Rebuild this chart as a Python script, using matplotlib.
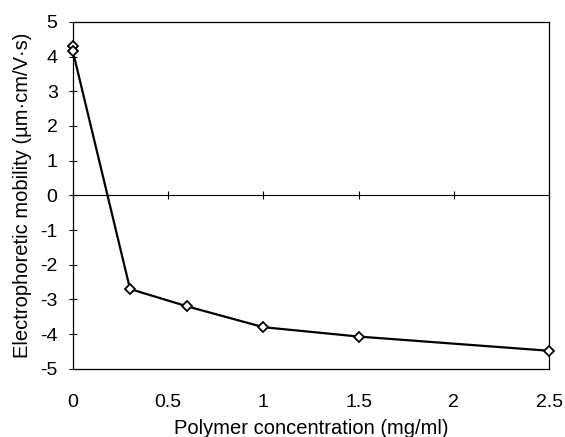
import numpy as np
import matplotlib
matplotlib.use('Agg')
import matplotlib.pyplot as plt

plt.rcParams['font.family'] = ['Liberation Sans', 'DejaVu Sans']
plt.rcParams['axes.unicode_minus'] = False

# polymer concentration (mg/ml) and electrophoretic mobility
conc = [0, 0, 0.3, 0.6, 1.0, 1.5, 2.5]
mobility = [4.3, 4.15, -2.7, -3.2, -3.8, -4.07, -4.48]

x_ticks = [0, 0.5, 1, 1.5, 2, 2.5]
x_labels = ['0', '0.5', '1', '1.5', '2', '2.5']
y_ticks = [5, 4, 3, 2, 1, 0, -1, -2, -3, -4, -5]

fig = plt.figure(figsize=(5.65, 4.37), dpi=100)
ax = fig.add_axes([0.129, 0.156, 0.843, 0.794])

ax.plot(conc, mobility, color='k', lw=1.6, marker='D', markersize=5,
        markerfacecolor='white', markeredgecolor='k', markeredgewidth=1.3,
        zorder=3, clip_on=False)

ax.set_xlim(0, 2.5)
ax.set_ylim(-5, 5)
ax.set_xticks(x_ticks)
ax.set_xticklabels(x_labels)
ax.set_yticks(y_ticks)
ax.tick_params(axis='y', direction='inout', length=6, width=0.8, labelsize=14, pad=8)
ax.tick_params(axis='x', length=0, labelsize=14, pad=18)
for s in ax.spines.values():
    s.set_linewidth(0.9)

# zero line carrying the x ticks
ax2 = ax.twiny()
ax2.set_xlim(ax.get_xlim())
ax2.set_xticks(x_ticks)
ax2.xaxis.set_ticks_position('bottom')
ax2.spines['bottom'].set_position(('data', 0))
ax2.spines['bottom'].set_linewidth(0.8)
for side in ['top', 'left', 'right']:
    ax2.spines[side].set_visible(False)
ax2.tick_params(axis='x', direction='inout', length=6, width=0.8, labelbottom=False, labeltop=False)

ax.set_xlabel('Polymer concentration (mg/ml)', fontsize=14.5, labelpad=6)
ax.set_ylabel('Electrophoretic mobility (\u00b5m\u00b7cm/V\u00b7s)', fontsize=14.5, labelpad=6)

fig.savefig('out.png', dpi=100)
